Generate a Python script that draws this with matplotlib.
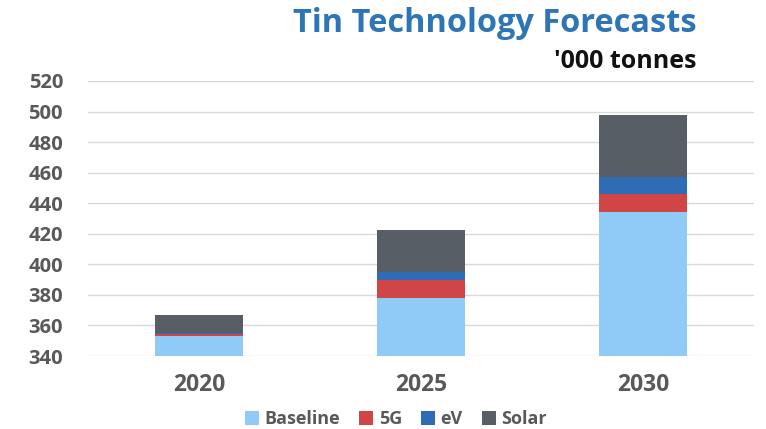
import matplotlib
matplotlib.use("Agg")
import matplotlib.pyplot as plt
import numpy as np

years = ["2020", "2025", "2030"]
baseline = [353, 378, 434]
g5 = [1.5, 12, 12]
ev = [0.5, 5, 11]
solar = [12, 27.5, 41]
yticks = [340, 360, 380, 400, 420, 440, 460, 480, 500, 520]

series = [("Baseline", baseline, "#90CAF7"),
          ("5G", g5, "#D04646"),
          ("eV", ev, "#2E6DB6"),
          ("Solar", solar, "#585E65")]

plt.rcParams['font.family'] = ['Open Sans', 'DejaVu Sans']
fig = plt.figure(figsize=(7.66, 4.29), dpi=100)
ax = fig.add_axes([88/766, 1-356/429, (754-88)/766, (356-81)/429])

x = np.arange(len(years))
bottom = np.zeros(len(years))
for name, vals, col in series:
    v = np.array(vals, dtype=float)
    ax.bar(x, v, 0.4, bottom=bottom, color=col, label=name, zorder=3)
    bottom += v

ax.set_ylim(340, 520)
ax.set_xlim(-0.5, 2.5)
ax.set_yticks(yticks)
ax.set_yticklabels([str(t) for t in yticks])
ax.set_xticks(x)
ax.set_xticklabels(years)
ax.grid(axis='y', color='#D9D9D9', linewidth=1, zorder=0)
for s in ax.spines.values():
    s.set_visible(False)
ax.tick_params(axis='both', length=0, labelcolor='#595959')
ax.tick_params(axis='y', pad=18, labelsize=14.5)
ax.tick_params(axis='x', pad=12, labelsize=16.5)
for lab in ax.get_xticklabels() + ax.get_yticklabels():
    lab.set_fontweight('bold')

fig.text(697/766, 1-23/429, "Tin Technology Forecasts", ha='right', va='center',
         fontsize=23.4, fontweight='bold', color='#2E75B6')
fig.text(697/766, 1-62/429, "'000 tonnes", ha='right', va='center',
         fontsize=18, fontweight='bold', color='#111111')

leg = fig.legend(loc='center', bbox_to_anchor=(396/766, 1-419/429), ncol=4,
                 frameon=False, handlelength=0.78, handleheight=0.78,
                 handletextpad=0.3, columnspacing=1.05,
                 prop={'weight': 'bold', 'size': 13})
for t in leg.get_texts():
    t.set_color('#595959')

fig.savefig("out.png", dpi=100)
